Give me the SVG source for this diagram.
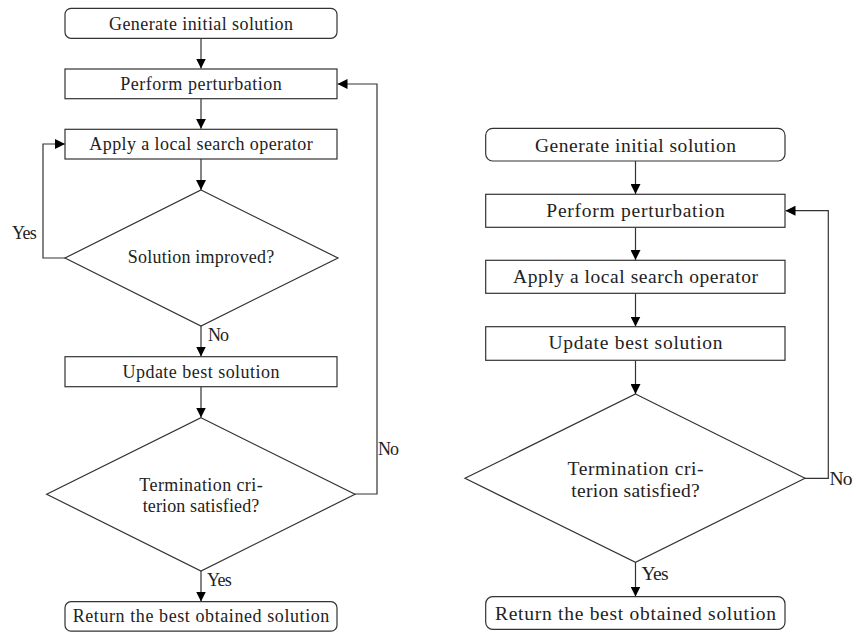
<svg xmlns="http://www.w3.org/2000/svg" width="856" height="633" viewBox="0 0 856 633">
<defs>
<marker id="ah" markerUnits="userSpaceOnUse" markerWidth="10" markerHeight="10" viewBox="0 0 10 10" refX="10" refY="5" orient="auto">
<path d="M0,0 L10,5 L0,10 Z" fill="#000"/>
</marker>
</defs>
<style>
.b{fill:#fff;stroke:#333;stroke-width:1.2}
.c{fill:none;stroke:#333;stroke-width:1.2;marker-end:url(#ah)}
</style>
<rect width="856" height="633" fill="#fff"/>
<g id="connectors">
<line class="c" x1="201" y1="38.5" x2="201" y2="68.5"/>
<line class="c" x1="201" y1="98.7" x2="201" y2="128.7"/>
<line class="c" x1="201" y1="159" x2="201" y2="190"/>
<polyline class="c" points="65,258 43,258 43,144 65,144"/>
<line class="c" x1="201" y1="326" x2="201" y2="356.5"/>
<line class="c" x1="201" y1="386.7" x2="201" y2="417.5"/>
<polyline class="c" points="355,494 377,494 377,84 337.5,84"/>
<line class="c" x1="201" y1="571" x2="201" y2="601.5"/>
<text style="font-family:'Liberation Serif',serif;font-size:18px;fill:#222" x="12" y="239" textLength="24.7" lengthAdjust="spacing">Yes</text>
<text style="font-family:'Liberation Serif',serif;font-size:18px;fill:#222" x="208" y="341" textLength="21" lengthAdjust="spacing">No</text>
<text style="font-family:'Liberation Serif',serif;font-size:18px;fill:#222" x="378" y="455" textLength="21" lengthAdjust="spacing">No</text>
<text style="font-family:'Liberation Serif',serif;font-size:18px;fill:#222" x="207" y="586" textLength="24.7" lengthAdjust="spacing">Yes</text>
<line class="c" x1="635.5" y1="161" x2="635.5" y2="194"/>
<line class="c" x1="635.5" y1="227.3" x2="635.5" y2="260"/>
<line class="c" x1="635.5" y1="293.3" x2="635.5" y2="326.5"/>
<line class="c" x1="635.5" y1="360.3" x2="635.5" y2="394"/>
<polyline class="c" points="805,478.3 828.3,478.3 828.3,210.7 785.5,210.7"/>
<line class="c" x1="635.5" y1="562.3" x2="635.5" y2="596.5"/>
<text style="font-family:'Liberation Serif',serif;font-size:19.5px;fill:#222" x="829.5" y="485" textLength="23" lengthAdjust="spacing">No</text>
<text style="font-family:'Liberation Serif',serif;font-size:19.5px;fill:#222" x="641.5" y="579.5" textLength="27" lengthAdjust="spacing">Yes</text>
</g>
<g id="L1"><rect class="b" x="65" y="8.3" width="272" height="30" rx="6"/><text style="font-family:'Liberation Serif',serif;font-size:18px;fill:#222;text-anchor:middle" x="201" y="29.5" textLength="184" lengthAdjust="spacing">Generate initial solution</text></g>
<g id="L2"><rect class="b" x="65" y="69" width="272" height="29.7"/><text style="font-family:'Liberation Serif',serif;font-size:18px;fill:#222;text-anchor:middle" x="201" y="89.5" textLength="161.7" lengthAdjust="spacing">Perform perturbation</text></g>
<g id="L3"><rect class="b" x="65" y="129.3" width="272" height="29.7"/><text style="font-family:'Liberation Serif',serif;font-size:18px;fill:#222;text-anchor:middle" x="201" y="149.5" textLength="223.3" lengthAdjust="spacing">Apply a local search operator</text></g>
<g id="L4"><polygon class="b" points="201,190 338,258 201,326 65,258"/><text style="font-family:'Liberation Serif',serif;font-size:18px;fill:#222;text-anchor:middle" x="201" y="263" textLength="146.3" lengthAdjust="spacing">Solution improved?</text></g>
<g id="L5"><rect class="b" x="65" y="356.7" width="272" height="30"/><text style="font-family:'Liberation Serif',serif;font-size:18px;fill:#222;text-anchor:middle" x="201" y="377.5" textLength="157" lengthAdjust="spacing">Update best solution</text></g>
<g id="L6"><polygon class="b" points="201,417.7 355,494.3 201,571 46.7,494.3"/><text style="font-family:'Liberation Serif',serif;font-size:18px;fill:#222;text-anchor:middle" x="201" y="490.5" textLength="123.3" lengthAdjust="spacing">Termination cri-</text><text style="font-family:'Liberation Serif',serif;font-size:18px;fill:#222;text-anchor:middle" x="201" y="511.5" textLength="116.7" lengthAdjust="spacing">terion satisfied?</text></g>
<g id="L7"><rect class="b" x="65" y="601.7" width="272" height="29.5" rx="6"/><text style="font-family:'Liberation Serif',serif;font-size:18px;fill:#222;text-anchor:middle" x="201" y="622" textLength="256.7" lengthAdjust="spacing">Return the best obtained solution</text></g>
<g id="R1"><rect class="b" x="485.7" y="128.3" width="299.3" height="32.7" rx="7"/><text style="font-family:'Liberation Serif',serif;font-size:19.5px;fill:#222;text-anchor:middle" x="635.5" y="151.5" textLength="201" lengthAdjust="spacing">Generate initial solution</text></g>
<g id="R2"><rect class="b" x="485.7" y="194.3" width="299.3" height="33"/><text style="font-family:'Liberation Serif',serif;font-size:19.5px;fill:#222;text-anchor:middle" x="635.5" y="217" textLength="178.3" lengthAdjust="spacing">Perform perturbation</text></g>
<g id="R3"><rect class="b" x="485.7" y="260.3" width="299.3" height="33"/><text style="font-family:'Liberation Serif',serif;font-size:19.5px;fill:#222;text-anchor:middle" x="635.5" y="283" textLength="245" lengthAdjust="spacing">Apply a local search operator</text></g>
<g id="R4"><rect class="b" x="485.7" y="326.7" width="299.3" height="33.6"/><text style="font-family:'Liberation Serif',serif;font-size:19.5px;fill:#222;text-anchor:middle" x="635.5" y="349" textLength="174" lengthAdjust="spacing">Update best solution</text></g>
<g id="R5"><polygon class="b" points="635.5,394 805,478.3 635.5,562.3 465,478.3"/><text style="font-family:'Liberation Serif',serif;font-size:19.5px;fill:#222;text-anchor:middle" x="635.5" y="474.5" textLength="136" lengthAdjust="spacing">Termination cri-</text><text style="font-family:'Liberation Serif',serif;font-size:19.5px;fill:#222;text-anchor:middle" x="635.5" y="496.5" textLength="128.3" lengthAdjust="spacing">terion satisfied?</text></g>
<g id="R6"><rect class="b" x="485.7" y="596.7" width="299.3" height="32.6" rx="7"/><text style="font-family:'Liberation Serif',serif;font-size:19.5px;fill:#222;text-anchor:middle" x="635.5" y="619.5" textLength="281" lengthAdjust="spacing">Return the best obtained solution</text></g>
</svg>
